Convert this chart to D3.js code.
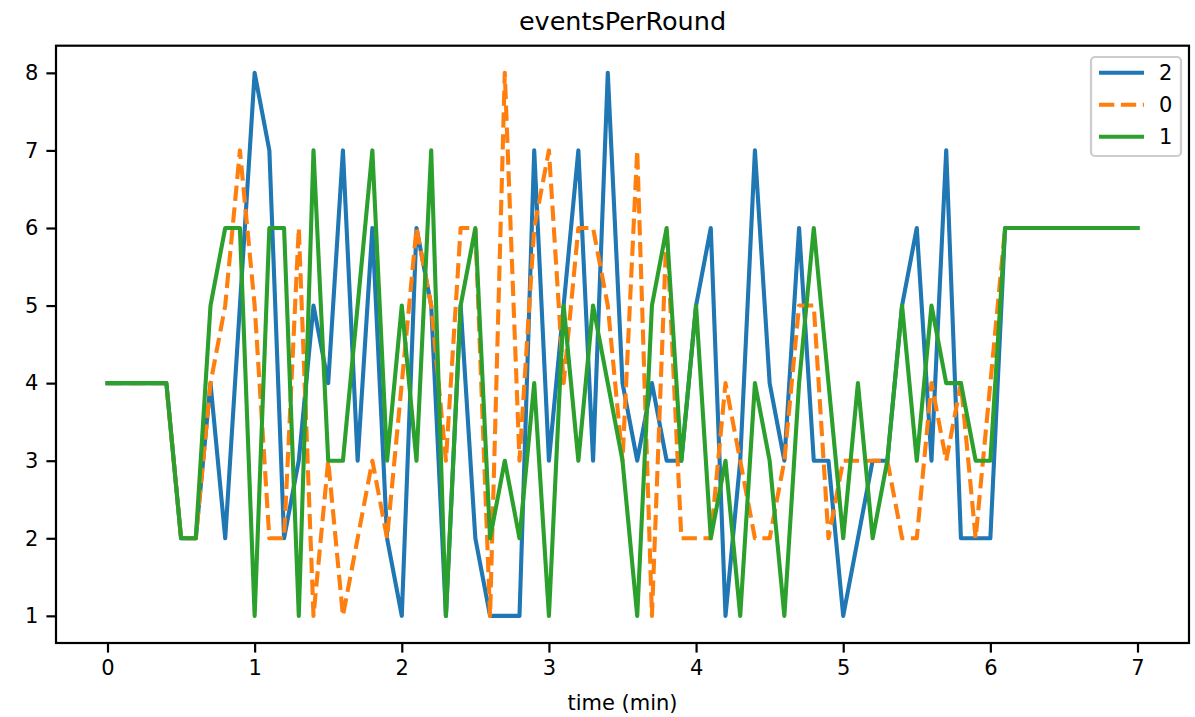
<!DOCTYPE html>
<html>
<head>
<meta charset="utf-8">
<script src="https://cdn.jsdelivr.net/npm/d3@7"></script>
<style>
  html, body { margin: 0; padding: 0; background: #fff; }
  svg { display: block; }
  text { font-family: "DejaVu Sans", sans-serif; fill: #000; }
</style>
</head>
<body>
<svg id="chart" width="1195" height="717"></svg>
<script>
// ---- data ----
const timeMin = [0, 0.1, 0.2, 0.3, 0.4, 0.5, 0.6, 0.7, 0.8, 0.9,
  1.0, 1.1, 1.2, 1.3, 1.4, 1.5, 1.6, 1.7, 1.8, 1.9,
  2.0, 2.1, 2.2, 2.3, 2.4, 2.5, 2.6, 2.7, 2.8, 2.9,
  3.0, 3.1, 3.2, 3.3, 3.4, 3.5, 3.6, 3.7, 3.8, 3.9,
  4.0, 4.1, 4.2, 4.3, 4.4, 4.5, 4.6, 4.7, 4.8, 4.9,
  5.0, 5.1, 5.2, 5.3, 5.4, 5.5, 5.6, 5.7, 5.8, 5.9,
  6.0, 6.1, 6.2, 6.3, 6.4, 6.5, 6.6, 6.7, 6.8, 6.9, 7.0];

const series2 = [4, 4, 4, 4, 4, 2, 2, 4, 2, 5,
  8, 7, 2, 3, 5, 4, 7, 3, 6, 2,
  1, 6, 5, 1, 5, 2, 1, 1, 1, 7,
  3, 5, 7, 3, 8, 4, 3, 4, 3, 3,
  5, 6, 1, 3, 7, 4, 3, 6, 3, 3,
  1, 2, 3, 3, 5, 6, 3, 7, 2, 2,
  2, 6, 6, 6, 6, 6, 6, 6, 6, 6, 6];

const series0 = [4, 4, 4, 4, 4, 2, 2, 4, 5, 7,
  5, 2, 2, 6, 1, 3, 1, 2, 3, 2,
  4, 6, 5, 3, 6, 6, 1, 8, 3, 6,
  7, 4, 6, 6, 5, 3, 7, 1, 6, 2,
  2, 2, 4, 3, 2, 2, 3, 5, 5, 2,
  3, 3, 3, 3, 2, 2, 4, 3, 4, 2,
  4, 6, 6, 6, 6, 6, 6, 6, 6, 6, 6];

const series1 = [4, 4, 4, 4, 4, 2, 2, 5, 6, 6,
  1, 6, 6, 1, 7, 3, 3, 5, 7, 3,
  5, 3, 7, 1, 5, 6, 2, 3, 2, 4,
  1, 5, 3, 5, 4, 3, 1, 5, 6, 3,
  5, 2, 3, 1, 4, 3, 1, 4, 6, 4,
  2, 4, 2, 3, 5, 3, 5, 4, 4, 3,
  3, 6, 6, 6, 6, 6, 6, 6, 6, 6, 6];

const seriesNames = ["2", "0", "1"];
const seriesColors = ["#1f77b4", "#ff7f0e", "#2ca02c"];
const seriesDash = [null, "15.3,6.6", null];
const xTicks = [0, 1, 2, 3, 4, 5, 6, 7];
const yTicks = [1, 2, 3, 4, 5, 6, 7, 8];
const titleText = "eventsPerRound";
const xLabelText = "time (min)";

// ---- layout ----
const svg = d3.select("#chart");
const L = 56, R = 1189, T = 45.7, B = 643;
const FS = 21, FST = 25.5;
const x = d3.scaleLinear().domain([-0.35, 7.35]).range([L, R]);
const y = d3.scaleLinear().domain([0.65, 8.35]).range([B, T]);

const allSeries = [series2, series0, series1];

const line = d3.line()
  .x((d, i) => x(timeMin[i]))
  .y(d => y(d));

const plot = svg.append("g");
allSeries.forEach((s, k) => {
  plot.append("path")
    .datum(s)
    .attr("d", line)
    .attr("fill", "none")
    .attr("stroke", seriesColors[k])
    .attr("stroke-width", 4.1)
    .attr("stroke-linejoin", "round")
    .attr("stroke-linecap", seriesDash[k] ? "butt" : "square")
    .attr("stroke-dasharray", seriesDash[k]);
});

// frame
svg.append("rect")
  .attr("x", L).attr("y", T)
  .attr("width", R - L).attr("height", B - T)
  .attr("fill", "none").attr("stroke", "#000").attr("stroke-width", 2.2);

// axes
const xAxis = d3.axisBottom(x).tickValues(xTicks).tickSize(9.6).tickPadding(7).tickFormat(d3.format("d"));
const gx = svg.append("g").attr("transform", `translate(0,${B})`).call(xAxis);
gx.select(".domain").remove();
gx.selectAll(".tick line").attr("stroke", "#000").attr("stroke-width", 2.2);
gx.selectAll(".tick text").attr("font-size", FS).attr("font-family", "DejaVu Sans").attr("fill", "#000");

const yAxis = d3.axisLeft(y).tickValues(yTicks).tickSize(9.6).tickPadding(8).tickFormat(d3.format("d"));
const gy = svg.append("g").attr("transform", `translate(${L},0)`).call(yAxis);
gy.select(".domain").remove();
gy.selectAll(".tick line").attr("stroke", "#000").attr("stroke-width", 2.2);
gy.selectAll(".tick text").attr("font-size", FS).attr("font-family", "DejaVu Sans").attr("fill", "#000");

// title & label
svg.append("text").attr("x", (L + R) / 2).attr("y", 30)
  .attr("text-anchor", "middle").attr("font-size", FST).text(titleText);
svg.append("text").attr("x", (L + R) / 2).attr("y", 710)
  .attr("text-anchor", "middle").attr("font-size", FS).text(xLabelText);

// legend
const lg = svg.append("g");
lg.append("rect")
  .attr("x", 1091).attr("y", 57).attr("width", 90).attr("height", 99)
  .attr("rx", 4).attr("ry", 4)
  .attr("fill", "#fff").attr("fill-opacity", 0.8)
  .attr("stroke", "#cccccc").attr("stroke-width", 2.2);
seriesNames.forEach((name, k) => {
  const yy = 72.7 + k * 32;
  lg.append("line")
    .attr("x1", 1099).attr("x2", 1144).attr("y1", yy).attr("y2", yy)
    .attr("stroke", seriesColors[k]).attr("stroke-width", 4.1)
    .attr("stroke-dasharray", seriesDash[k]);
  lg.append("text").attr("x", 1159).attr("y", yy + 7.5)
    .attr("font-size", FS).text(name);
});
</script>
</body>
</html>
